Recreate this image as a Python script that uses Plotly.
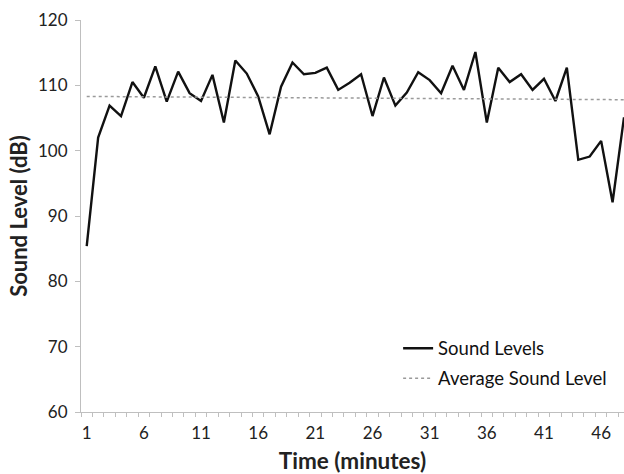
import plotly.graph_objects as go

minutes = list(range(1, 49))
sound_levels = [85.4, 102.0, 106.9, 105.3, 110.5, 108.1, 112.9, 107.5, 112.1, 108.8,
                107.6, 111.6, 104.3, 113.8, 111.8, 108.3, 102.5, 109.8, 113.5, 111.7,
                111.9, 112.7, 109.3, 110.4, 111.7, 105.3, 111.2, 106.9, 108.9, 112.0,
                110.8, 108.8, 113.0, 109.3, 115.1, 104.3, 112.7, 110.5, 111.7, 109.3,
                111.0, 107.6, 112.7, 98.6, 99.1, 101.5, 92.1, 105.1]
avg_x = [1, 48]
avg_level = [108.3, 107.8]
x_tickvals = [1, 6, 11, 16, 21, 26, 31, 36, 41, 46]
y_tickvals = [60, 70, 80, 90, 100, 110, 120]

FONT = "Lato"
AXIS_GRAY = "#bfbfbf"

fig = go.Figure()
fig.add_trace(go.Scatter(x=minutes, y=sound_levels, mode="lines", name="Sound Levels",
                         line=dict(color="#111111", width=2.4), legendgroup="a"))
fig.add_trace(go.Scatter(x=avg_x, y=avg_level, mode="lines", name="Average Sound Level",
                         line=dict(color="#9a9a9a", width=1.5, dash="dot"), legendgroup="b"))

fig.update_layout(
    width=624, height=474,
    margin=dict(l=81, r=0, t=20, b=62),
    plot_bgcolor="white", paper_bgcolor="white",
    font=dict(family=FONT, size=17, color="#222222"),
    showlegend=True,
    legend=dict(x=0.584, y=0.210, xanchor="left", yanchor="top",
                bgcolor="rgba(0,0,0,0)", font=dict(size=18.5, color="#111111"),
                traceorder="grouped", tracegroupgap=3),
    xaxis=dict(range=[0.5, 48.0], tickvals=x_tickvals, ticks="", showgrid=False,
               zeroline=False, showline=True, linecolor=AXIS_GRAY, linewidth=1,
               tickfont=dict(size=17), ticklabelstandoff=6,
               minor=dict(tick0=0.5, dtick=1, ticks="outside", ticklen=4,
                          tickcolor=AXIS_GRAY, showgrid=False),
               title=dict(text="<b>Time (minutes)</b>", font=dict(size=22.5), standoff=12)),
    yaxis=dict(range=[60, 120], tickvals=y_tickvals, ticks="outside", ticklen=5,
               tickcolor=AXIS_GRAY, showgrid=False, zeroline=False, showline=True,
               linecolor=AXIS_GRAY, linewidth=1, tickfont=dict(size=17), ticklabelstandoff=4,
               title=dict(text="<b>Sound Level (dB)</b>", font=dict(size=22), standoff=4)),
)

fig.write_html("out.html", config={"displayModeBar": False},
               post_script="document.body.style.margin='0';document.body.style.overflow='hidden';")
